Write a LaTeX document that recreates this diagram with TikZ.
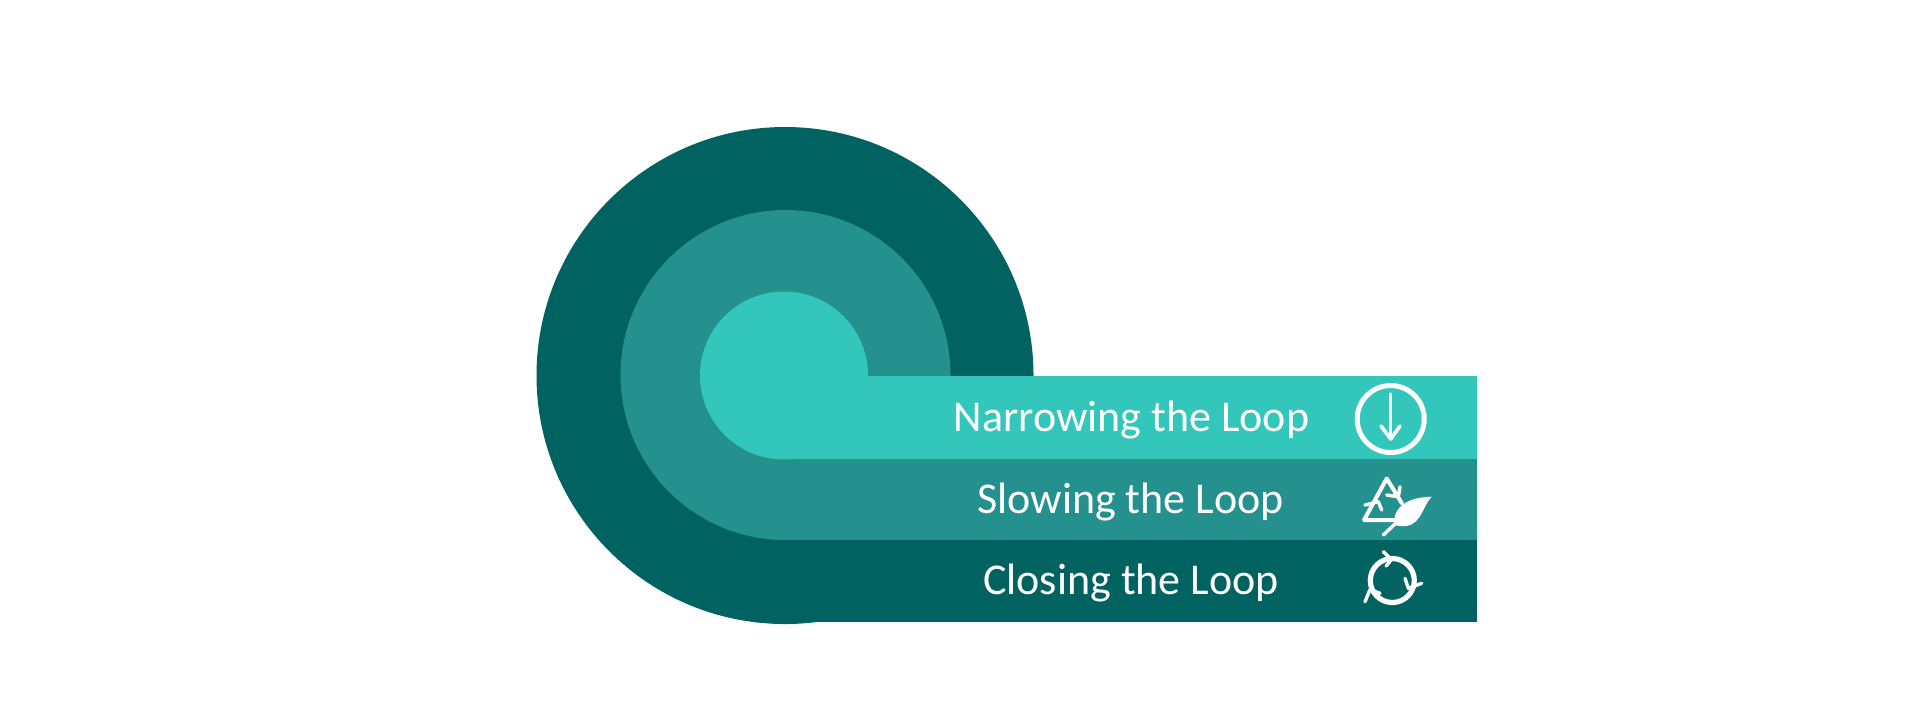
\documentclass[tikz,border=0pt]{standalone}
\usepackage{fontspec}
\setmainfont{Carlito}
\definecolor{tealA}{HTML}{33C6BA}
\definecolor{tealB}{HTML}{24918F}
\definecolor{tealC}{HTML}{006361}
\tikzset{
  px/.style={x=0.5pt,y=-0.5pt},
  lab/.style={text=white,font=\fontsize{22pt}{26pt}\selectfont,inner sep=0pt,anchor=base},
  ico/.style={draw=white,line width=2pt,line cap=round,line join=round},
  barb/.style={draw=white,line width=1.7pt,line cap=round,line join=round}
}
\begin{document}
\begin{tikzpicture}[px]
\useasboundingbox (0,0) rectangle (1920,720);
\fill[white] (0,0) rectangle (1920,720);
% outer layer
\fill[tealC] (785,375.5) circle[radius=248.5];
\fill[tealC] (785,376) rectangle (1477,622);
% middle layer
\fill[tealB] (785.5,375) circle[radius=165];
\fill[tealB] (785.5,376) rectangle (1477,540);
% inner layer
\fill[tealA] (784,375.5) circle[radius=84];
\fill[tealA] (784,375.5) rectangle (1477,459);
% labels
\node[lab] (n1) at (1131.5,431) {Narrowing the Loop};
\node[lab] (n2) at (1130.5,513) {Slowing the Loop};
\node[lab] (n3) at (1131,594) {Closing the Loop};
% icon: narrowing
\draw[ico,line width=2.5pt] (1390.7,419) circle[radius=33.5];
\draw[ico,line width=1.7pt] (1390.7,394) -- (1390.7,438);
\draw[ico,line width=1.8pt] (1381,426) -- (1390.7,439) -- (1400,426);
% icon: slowing
\draw[ico] (1401.7,503) -- (1386.7,478.5) -- (1364,520) -- (1395,520);
\draw[barb] (1365,505) -- (1378.3,501.7) -- (1381.7,510);
\draw[barb] (1400,486.7) -- (1398.3,496.7) -- (1386.7,495);
\fill[white] (1431.7,496.7) .. controls (1418,497) and (1407,500) .. (1400,507) .. controls (1395,512) and (1393.5,519) .. (1394.5,525) .. controls (1402,527) and (1410,527) .. (1415,522) .. controls (1423,515) and (1424,505) .. (1431.7,496.7) -- cycle;
\draw[barb] (1383.3,535) -- (1397,522);
% icon: closing
\draw[ico,line width=2.6pt] (1392.3,580.5) circle[radius=22];
\draw[barb] (1383.3,551.7) -- (1391.5,559.5) -- (1386,566);
\draw[barb] (1421.7,583.3) -- (1408.3,588.3) -- (1405,578.3);
\draw[barb] (1365,601.7) -- (1370,589.5) -- (1380,593.3);
\end{tikzpicture}
\end{document}
